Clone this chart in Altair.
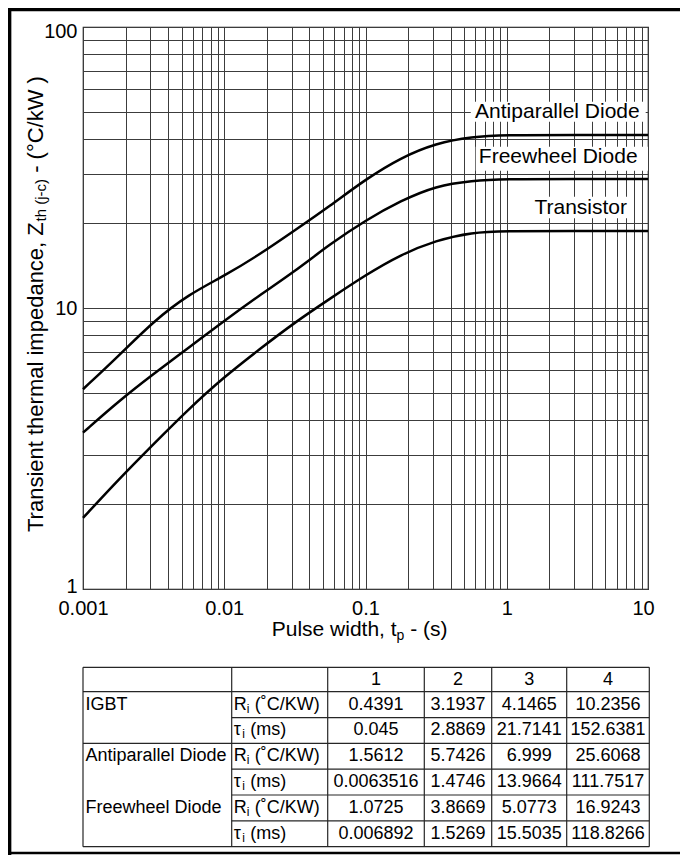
import altair as alt
import pandas as pd

FONT = "Liberation Sans"

# ------------------------------------------------------------------
# Values
# ------------------------------------------------------------------
series_names = ["Transistor", "Freewheel Diode", "Antiparallel Diode"]

t_points = [0.001, 0.00178, 0.00316, 0.00562, 0.01, 0.0178, 0.0316, 0.0562,
            0.1, 0.178, 0.316, 0.562, 1.0, 3.0, 10.0]
z_transistor = [1.79, 2.45, 3.28, 4.38, 5.69, 7.14, 8.89, 10.8,
                13.1, 15.5, 17.4, 18.6, 18.8, 18.8, 18.8]
z_freewheel = [3.6, 4.65, 5.83, 7.23, 9.0, 11.1, 13.5, 16.9,
               20.5, 24.1, 27.2, 28.4, 28.8, 28.8, 28.8]
z_antiparallel = [5.14, 6.74, 8.98, 11.2, 13.0, 15.5, 18.9, 23.1,
                  28.7, 34.3, 38.6, 40.7, 41.3, 41.3, 41.3]

x_tick_labels = ["0.001", "0.01", "0.1", "1", "10"]
y_tick_labels = ["1", "10", "100"]

# curve labels (anchor and white box, in data units)
label_names = ["Antiparallel Diode", "Freewheel Diode", "Transistor"]
label_t = [2.283, 2.313, 3.338]
label_z = [49.75, 34.46, 22.66]
box_t0 = [0.556, 0.603, 1.477]
box_t1 = [9.63, 10.0, 7.62]
box_z0 = [46.0, 30.8, 20.86]
box_z1 = [54.2, 37.5, 24.9]

# table
table_header = ["", "", "1", "2", "3", "4"]
groups = ["IGBT", "Antiparallel Diode", "Freewheel Diode"]
r_igbt = ["0.4391", "3.1937", "4.1465", "10.2356"]
tau_igbt = ["0.045", "2.8869", "21.7141", "152.6381"]
r_anti = ["1.5612", "5.7426", "6.999", "25.6068"]
tau_anti = ["0.0063516", "1.4746", "13.9664", "111.7517"]
r_free = ["1.0725", "3.8669", "5.0773", "16.9243"]
tau_free = ["0.006892", "1.5269", "15.5035", "118.8266"]

# ------------------------------------------------------------------
# Layout helpers
# ------------------------------------------------------------------
W, H = 565, 562
ARIAL = {' ': 278, 'T': 611, 'r': 333, 'a': 556, 'n': 556, 's': 500, 'i': 222,
         'e': 556, 't': 278, 'h': 556, 'm': 833, 'l': 222, 'p': 556, 'd': 556, 'c': 500,
         ',': 278, 'Z': 611, '(': 333, ')': 333, 'j': 222, '-': 333, '°': 400, 'C': 722,
         '/': 278, 'k': 500, 'W': 944, 'P': 667, 'u': 556, 'w': 722, 'R': 722, 'K': 667,
         '˚': 333, 'τ': 470}


def tw(s, size):
    return sum(ARIAL.get(ch, 556) for ch in s) * size / 1000.0


def piece(txt, x, y, size, angle=0):
    return alt.Chart(alt.Data(values=[{"label": txt}])).mark_text(
        font=FONT, fontSize=size, angle=angle, align="left", baseline="alphabetic", color="black"
    ).encode(x=alt.value(x), y=alt.value(y), text="label:N")


# ------------------------------------------------------------------
# Plot
# ------------------------------------------------------------------
rows = []
for name, zs in [(series_names[0], z_transistor),
                 (series_names[1], z_freewheel),
                 (series_names[2], z_antiparallel)]:
    for t, z in zip(t_points, zs):
        rows.append({"series": name, "t": t, "z": z})
curves_df = pd.DataFrame(rows)

x_grid = [round(m * 10.0 ** e, 6) for e in range(-3, 1) for m in range(1, 10)] + [10.0]
y_grid = [round(m * 10.0 ** e, 6) for e in range(0, 2) for m in range(1, 10)] + [100.0]

xs = alt.Scale(type="log", domain=[0.001, 10])
ys = alt.Scale(type="log", domain=[1, 100])

common_axis = dict(grid=True, gridColor="#3c3c3c", gridWidth=1, gridOpacity=1, ticks=False,
                   domain=False, title=None, labelFont=FONT, labelFontSize=20,
                   labelColor="black", labelFlush=False, labelOverlap=False, format="~g")

x_axis = alt.Axis(values=x_grid, labelPadding=9,
                  labelOffset={"condition": {"test": "datum.value >= 10", "value": -5},
                               "value": 0},
                  labelExpr="indexof(" + str(x_tick_labels) + ", datum.label) >= 0 ? datum.label : ''",
                  **common_axis)
y_axis = alt.Axis(values=y_grid, labelPadding=6,
                  labelOffset={"condition": [{"test": "datum.value >= 100", "value": 4.5},
                                             {"test": "datum.value <= 1", "value": -2.5}],
                               "value": 0},
                  labelExpr="indexof(" + str(y_tick_labels) + ", datum.label) >= 0 ? datum.label : ''",
                  **common_axis)

curves = alt.Chart(curves_df).mark_line(
    color="black", strokeWidth=2.5, interpolate="basis"
).encode(
    x=alt.X("t:Q", scale=xs, axis=x_axis),
    y=alt.Y("z:Q", scale=ys, axis=y_axis),
    detail="series:N",
)

labels_df = pd.DataFrame({"name": label_names, "tc": label_t, "zc": label_z,
                          "t0": box_t0, "t1": box_t1, "z0": box_z0, "z1": box_z1})

boxes = alt.Chart(labels_df).mark_rect(color="white", opacity=1).encode(
    x=alt.X("t0:Q", scale=xs), x2="t1:Q",
    y=alt.Y("z0:Q", scale=ys), y2="z1:Q",
)
label_text = alt.Chart(labels_df).mark_text(
    font=FONT, fontSize=21, align="center", baseline="middle", color="black"
).encode(
    x=alt.X("tc:Q", scale=xs), y=alt.Y("zc:Q", scale=ys), text="name:N"
)

# axis titles with subscripts (spaces between pieces are added as offsets)
xt1, xt2, xt3 = "Pulse width, t", "p", "- (s)"
xs0, xb = 188.7, 609
x_title = [
    piece(xt1, xs0, xb, 21),
    piece(xt2, xs0 + tw(xt1, 21), xb + 3.5, 14),
    piece(xt3, xs0 + tw(xt1, 21) + tw(xt2, 14) + tw(" ", 21), xb, 21),
]

yt1, yt2, yt3 = "Transient thermal impedance, Z", "th (j-c)", "- (°C/kW )"
ys0, yb = 505, -40
y_title = [
    piece(yt1, yb, ys0, 22, 270),
    piece(yt2, yb + 3, ys0 - tw(yt1, 22), 15, 270),
    piece(yt3, yb, ys0 - tw(yt1, 22) - tw(yt2, 15) - tw(" ", 22), 22, 270),
]

# outer frame
PAD_L, PAD_T, PAD_R, PAD_B = 75, 19, 32, 266
frame_df = alt.Data(values=[{}])
frame = [
    alt.Chart(frame_df).mark_rule(color="black", strokeWidth=3.5).encode(
        x=alt.value(-PAD_L), x2=alt.value(W + PAD_R), y=alt.value(-PAD_T + 1.6)),
    alt.Chart(frame_df).mark_rule(color="black", strokeWidth=3.5).encode(
        x=alt.value(-PAD_L + 1.6), y=alt.value(-PAD_T), y2=alt.value(H + PAD_B)),
    alt.Chart(frame_df).mark_rule(color="black", strokeWidth=2.5).encode(
        x=alt.value(-PAD_L), x2=alt.value(W + PAD_R), y=alt.value(H + PAD_B - 2)),
]

plot = alt.layer(curves, boxes, label_text, *x_title, *y_title, *frame)

# ------------------------------------------------------------------
# Table
# ------------------------------------------------------------------
col_widths = [148.7, 96, 96.6, 67.4, 75, 82.6]
row_heights = [24.4] + [25.83] * 6
TABLE_TOP = 640.3

col_edges = [0.0]
for w in col_widths:
    col_edges.append(col_edges[-1] + w)
row_edges = [0.0]
for h in row_heights:
    row_edges.append(row_edges[-1] + h)
TW, TH = col_edges[-1], row_edges[-1]

tx = alt.Scale(domain=[0, TW], range=[0, TW])
ty = alt.Scale(domain=[0, TH], range=[TABLE_TOP, TABLE_TOP + TH])


def rc(r):
    return (row_edges[r] + row_edges[r + 1]) / 2


def cc(c):
    return (col_edges[c] + col_edges[c + 1]) / 2


center_cells = []
for c in range(2, 6):
    center_cells.append({"x": cc(c), "y": rc(0), "text": table_header[c]})
value_rows = [r_igbt, tau_igbt, r_anti, tau_anti, r_free, tau_free]
for i, vals in enumerate(value_rows):
    for j, v in enumerate(vals):
        center_cells.append({"x": cc(j + 2), "y": rc(i + 1), "text": v})

left_cells = []
for g, r in zip(groups, [1, 3, 5]):
    left_cells.append({"x": col_edges[0] + 2.5, "y": rc(r), "text": g})

sym_cells, sub_cells, rest_cells = [], [], []
for i in range(6):
    sym = "R" if i % 2 == 0 else "τ"
    rest = "(˚C/KW)" if i % 2 == 0 else "(ms)"
    x0 = col_edges[1] + 2
    sym_cells.append({"x": x0, "y": rc(i + 1), "text": sym})
    sub_cells.append({"x": x0 + tw(sym, 18), "y": rc(i + 1), "text": "i"})
    rest_cells.append({"x": x0 + tw(sym, 18) + tw("i", 12) + tw(" ", 18) + 0.5,
                       "y": rc(i + 1), "text": rest})


def tab_text(cells, align, size=18, dy=0):
    return alt.Chart(pd.DataFrame(cells)).mark_text(
        font=FONT, fontSize=size, align=align, baseline="middle", color="black", dy=dy
    ).encode(
        x=alt.X("x:Q", scale=tx, axis=None),
        y=alt.Y("y:Q", scale=ty, axis=None),
        text="text:N",
    )


hlines = [
    {"x0": 0, "x1": TW, "y": row_edges[0]},
    {"x0": 0, "x1": TW, "y": row_edges[1]},
    {"x0": col_edges[1], "x1": TW, "y": row_edges[2]},
    {"x0": 0, "x1": TW, "y": row_edges[3]},
    {"x0": col_edges[1], "x1": TW, "y": row_edges[4]},
    {"x0": col_edges[1], "x1": TW, "y": row_edges[5]},
    {"x0": col_edges[1], "x1": TW, "y": row_edges[6]},
    {"x0": 0, "x1": TW, "y": row_edges[7]},
]
vlines = [{"x": x, "y0": 0, "y1": TH} for x in col_edges]

h_rules = alt.Chart(pd.DataFrame(hlines)).mark_rule(color="#262626", strokeWidth=1.2).encode(
    x=alt.X("x0:Q", scale=tx, axis=None), x2="x1:Q",
    y=alt.Y("y:Q", scale=ty, axis=None),
)
v_rules = alt.Chart(pd.DataFrame(vlines)).mark_rule(color="#262626", strokeWidth=1.2).encode(
    x=alt.X("x:Q", scale=tx, axis=None),
    y=alt.Y("y0:Q", scale=ty, axis=None), y2="y1:Q",
)

table = alt.layer(
    h_rules, v_rules,
    tab_text(center_cells, "center"),
    tab_text(left_cells, "left"),
    tab_text(sym_cells, "left"),
    tab_text(sub_cells, "left", size=12, dy=4),
    tab_text(rest_cells, "left"),
)

chart = alt.layer(plot, table).resolve_scale(
    x="independent", y="independent"
).properties(
    width=W, height=H,
    autosize=alt.AutoSizeParams(type="none"),
    padding={"left": PAD_L, "top": PAD_T, "right": PAD_R, "bottom": PAD_B},
    background="white",
).configure_view(stroke="#111111", strokeWidth=1.2)

chart.save("out.html", embed_options={"renderer": "svg", "actions": False})
